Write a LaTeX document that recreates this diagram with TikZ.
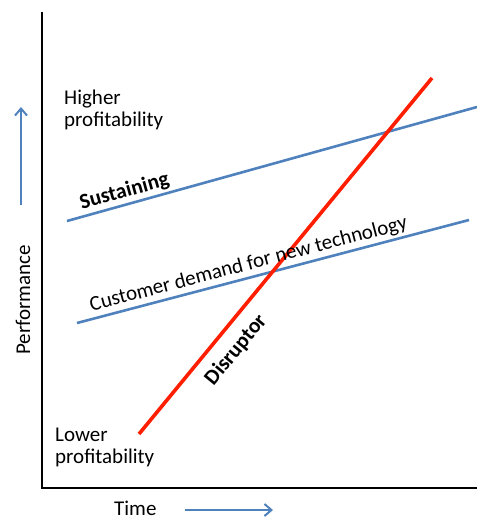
\documentclass[tikz,border=0pt]{standalone}
\usepackage{fontspec}
\setmainfont{Carlito}
\usetikzlibrary{arrows.meta}
\definecolor{officeblue}{RGB}{79,129,189}
\definecolor{disred}{RGB}{255,30,0}
\tikzset{
  axisline/.style={line width=2.4pt, black},
  blueline/.style={line width=2.6pt, officeblue},
  redline/.style={line width=3.6pt, disred},
  dirarrow/.style={line width=2pt, officeblue, -{Straight Barb[length=7pt,width=12pt,line width=2pt]}},
  lbl/.style={font=\fontsize{21}{21.5}\selectfont, inner sep=0pt, align=left},
  boldlbl/.style={font=\fontsize{21.5}{21.5}\selectfont\bfseries, inner sep=0pt}
}
\begin{document}
\begin{tikzpicture}[x=1pt,y=-1pt]
\useasboundingbox (0,0) rectangle (477,520);
% axes
\coordinate (ytop) at (42,12);
\coordinate (orig) at (42,488);
\coordinate (xend) at (477,488);
\draw[axisline] (ytop) -- (orig) -- (xend);
% sustaining
\coordinate (s1) at (67,221);
\coordinate (s2) at (477,107);
\draw[blueline] (s1) -- (s2);
% customer demand
\coordinate (c1) at (77,323);
\coordinate (c2) at (469,220);
\draw[blueline] (c1) -- (c2);
% disruptor
\coordinate (d1) at (139,434);
\coordinate (d2) at (432,78);
\draw[redline] (d1) -- (d2);
% direction arrows
\coordinate (ua1) at (21,205);
\coordinate (ua2) at (21,107);
\draw[dirarrow] (ua1) -- (ua2);
\coordinate (ra1) at (185,510);
\coordinate (ra2) at (273,510);
\draw[dirarrow] (ra1) -- (ra2);
% labels
\node[lbl, anchor=base west] (hp) at (64,126) {Higher\\profitability};
\node[lbl, anchor=base west] (lp) at (55,463) {Lower\\profitability};
\node[lbl, anchor=base west] (time) at (114,515) {Time};
\node[lbl, rotate=90] (perf) at (23,300) {Performance};
\node[boldlbl, rotate=15.5, anchor=south] (sus) at (127,201) {Sustaining};
\node[lbl, rotate=14.7, anchor=south] (cust) at (251,273.5) {Customer demand for new technology};
\node[boldlbl, rotate=50.5] (dis) at (236,350) {Disruptor};
\end{tikzpicture}
\end{document}
